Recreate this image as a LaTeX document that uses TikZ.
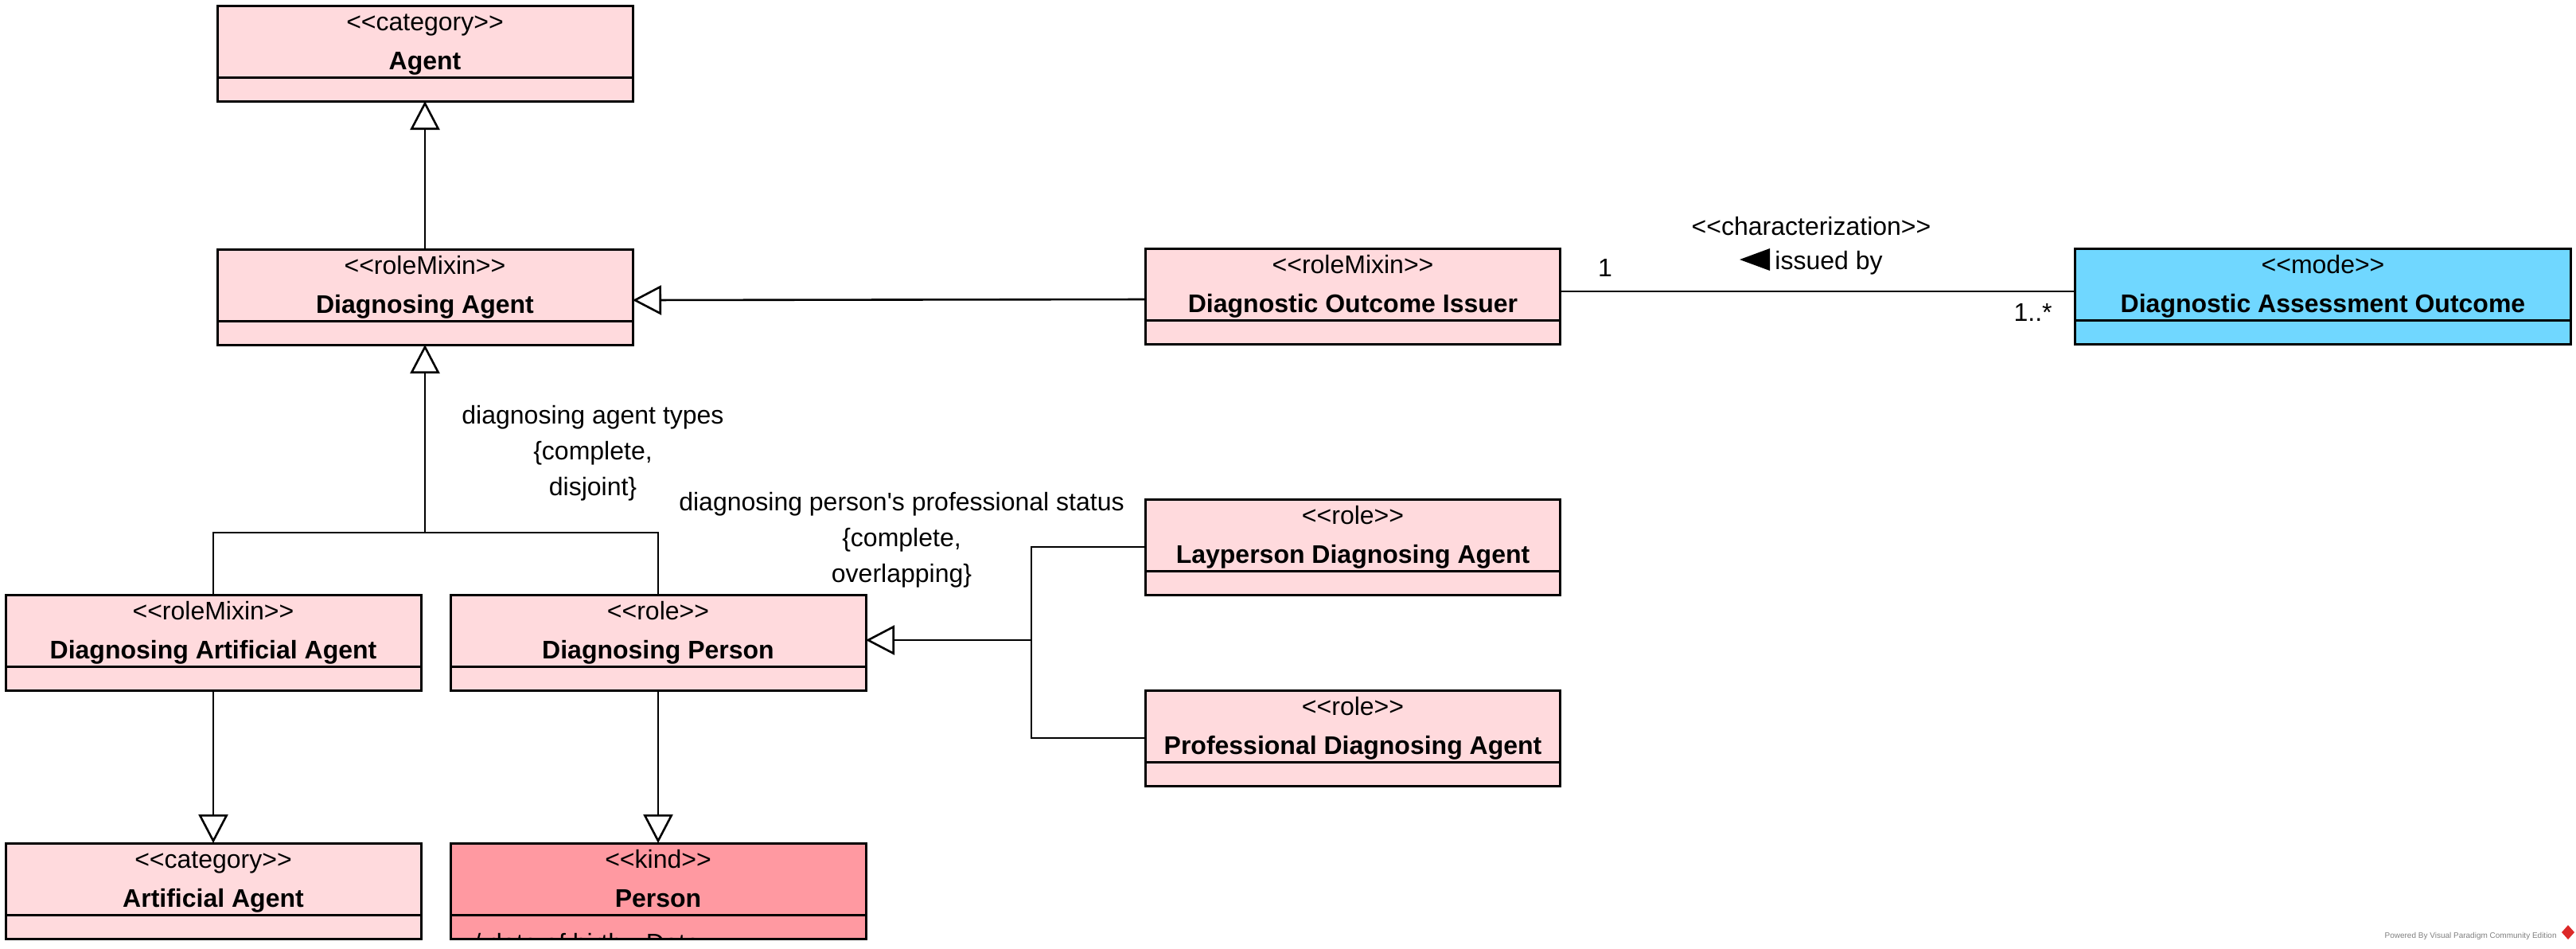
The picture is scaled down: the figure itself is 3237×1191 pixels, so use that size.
\documentclass[tikz,border=0pt]{standalone}
\usepackage{fontspec}
\setmainfont{Liberation Sans}[Ligatures=TeXOff]
\usetikzlibrary{arrows.meta}
\definecolor{pinkc}{RGB}{255,218,221}
\definecolor{personc}{RGB}{255,153,161}
\definecolor{bluec}{RGB}{112,215,255}
\definecolor{wmgray}{RGB}{128,128,128}
\definecolor{vpred}{RGB}{220,40,40}
\tikzset{
  classbox/.style={draw, line width=1.5pt, minimum height=60pt, inner sep=0pt, outer sep=0pt},
  boxline/.style={line width=1.5pt},
  stereo/.style={anchor=base, inner sep=0pt, font=\fontsize{16}{19}\selectfont},
  cname/.style={anchor=base, inner sep=0pt, font=\bfseries\fontsize{16}{19}\selectfont},
  attr/.style={inner sep=0pt, font=\fontsize{16}{19}\selectfont},
  lbl/.style={inner sep=0pt, font=\fontsize{16}{22.5}\selectfont},
  conn/.style={line width=1.3pt},
  gen/.style={line width=1.3pt, -{Triangle[length=18pt, width=18.5pt, fill=white]}},
}
\newcommand\umlclass[7]{%
  \node[classbox, fill=#5, minimum width=#4*0.5pt, anchor=north] (#1) at (#2,#3) {};
  \draw[boxline] ([yshift=-45pt]#1.north west) -- ([yshift=-45pt]#1.north east);
  \node[stereo] (#1-st) at ([yshift=-15.5pt]#1.north) {<<#6>>};
  \node[cname] (#1-nm) at ([yshift=-40pt]#1.north) {#7};
}
\begin{document}
\begin{tikzpicture}[x=0.5pt, y=-0.5pt]
\useasboundingbox (0,0) rectangle (3237,1191);

\umlclass{agent}{534}{7}{522}{pinkc}{category}{Agent}
\umlclass{da}{534}{313}{522}{pinkc}{roleMixin}{Diagnosing Agent}
\umlclass{doi}{1700}{312}{521}{pinkc}{roleMixin}{Diagnostic Outcome Issuer}
\umlclass{dao}{2919}{312}{623}{bluec}{mode}{Diagnostic Assessment Outcome}
\umlclass{daa}{268}{747}{522}{pinkc}{roleMixin}{Diagnosing Artificial Agent}
\umlclass{dp}{827}{747}{522}{pinkc}{role}{Diagnosing Person}
\umlclass{lda}{1700}{627}{521}{pinkc}{role}{Layperson Diagnosing Agent}
\umlclass{pda}{1700}{867}{521}{pinkc}{role}{Professional Diagnosing Agent}
\umlclass{aa}{268}{1059}{522}{pinkc}{category}{Artificial Agent}
\umlclass{person}{827}{1059}{522}{personc}{kind}{Person}

\begin{scope}
  \clip ([shift={(0.75pt,0.75pt)}]person.south west) rectangle ([shift={(-0.75pt,-45.75pt)}]person.north east);
  \node[attr, anchor=base west] (person-at) at (595,1195) {/ date of birth : Date};
\end{scope}

% connectors
\draw[gen] (da.north) -- (agent.south);
\draw[gen] ([yshift=-2pt]doi.west) -- ([yshift=-2pt]da.east);
\draw[conn] ([yshift=3pt]doi.east) -- ([yshift=3pt]dao.west);
\coordinate (j1) at (534,669);
\draw[conn] (daa.north) |- (j1) -| (dp.north);
\draw[gen] (j1) -- (da.south);
\coordinate (j2) at (1296,804);
\draw[conn] (lda.west) -| (j2) |- (pda.west);
\draw[gen] (j2) -- (dp.east |- j2);
\draw[gen] (daa.south) -- (aa.north);
\draw[gen] (dp.south) -- (person.north);

% labels
\node[lbl, align=center, anchor=north] (gs1) at (745,509) {diagnosing agent types\\\{complete,\\disjoint\}};
\node[lbl, align=center, anchor=north] (gs2) at (1133,618) {diagnosing person's professional status\\\{complete,\\overlapping\}};
\node[lbl, anchor=base] (char) at (2276,295) {<<characterization>>};
\node[lbl, anchor=base west] (issued) at (2230,338) {issued by};
\fill (2186,326) -- (2224,312) -- (2224,340) -- cycle;
\node[lbl, anchor=base] (m1) at (2017,347) {1};
\node[lbl, anchor=base east] (m2) at (2579,403) {1..*};

% watermark
\node[font=\fontsize{5}{6}\selectfont, text=wmgray, anchor=base east, inner sep=0pt] (wm) at (3213,1178) {Powered By Visual Paradigm Community Edition};
\fill[vpred] (3227,1162) -- (3235,1171) -- (3227,1180) -- (3219,1171) -- cycle;
\end{tikzpicture}
\end{document}
